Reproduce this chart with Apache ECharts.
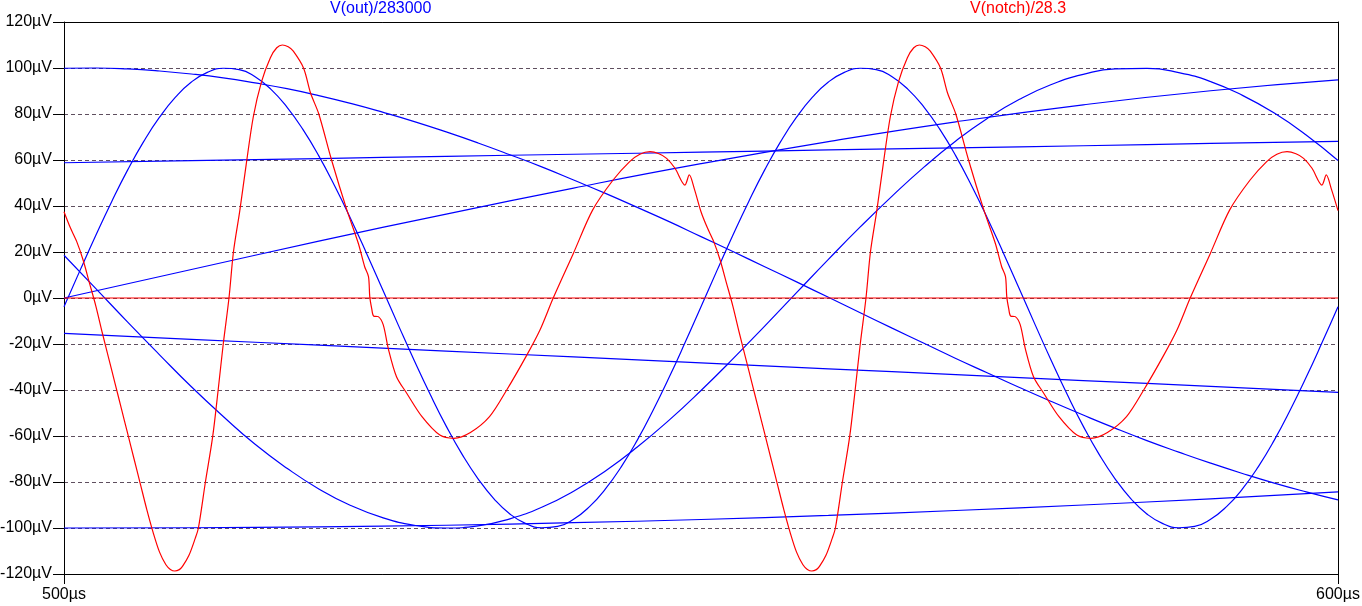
<!DOCTYPE html>
<html>
<head>
<meta charset="utf-8">
<script src="https://cdn.jsdelivr.net/npm/echarts@6/dist/echarts.min.js"></script>
<style>
  html, body { margin: 0; padding: 0; background: #fff; }
  #chart { width: 1362px; height: 606px; }
</style>
</head>
<body>
<div id="chart"></div>
<script>
// ---- data (time in µs, values in µV) ----
const time125 = [500,501.25,502.5,503.75,505,506.25,507.5,508.75,510,511.25,512.5,513.75,515,516.25,517.5,518.75,520,521.25,522.5,523.75,525,526.25,527.5,528.75,530,531.25,532.5,533.75,535,536.25,537.5,538.75,540,541.25,542.5,543.75,545,546.25,547.5,548.75,550,551.25,552.5,553.75,555,556.25,557.5,558.75,560,561.25,562.5,563.75,565,566.25,567.5,568.75,570,571.25,572.5,573.75,575,576.25,577.5,578.75,580,581.25,582.5,583.75,585,586.25,587.5,588.75,590,591.25,592.5,593.75,595,596.25,597.5,598.75,600];
const time25 = [500,502.5,505,507.5,510,512.5,515,517.5,520,522.5,525,527.5,530,532.5,535,537.5,540,542.5,545,547.5,550,552.5,555,557.5,560,562.5,565,567.5,570,572.5,575,577.5,580,582.5,585,587.5,590,592.5,595,597.5,600];
const time10 = [500,510,520,530,540,550,560,570,580,590,600];

const out20k = [-3.8,11.9,27.3,42.0,55.7,68.0,78.6,87.3,93.9,98.1,99.9,99.3,96.2,90.7,83.0,73.3,61.8,48.7,34.5,19.4,3.8,-11.9,-27.3,-42.0,-55.7,-68.0,-78.6,-87.3,-93.9,-98.1,-99.9,-99.3,-96.2,-90.7,-83.0,-73.3,-61.8,-48.7,-34.5,-19.4,
                -3.8,11.9,27.3,42.0,55.7,68.0,78.6,87.3,93.9,98.1,99.9,99.3,96.2,90.7,83.0,73.3,61.8,48.7,34.5,19.4,3.8,-11.9,-27.3,-42.0,-55.7,-68.0,-78.6,-87.3,-93.9,-98.1,-99.9,-99.3,-96.2,-90.7,-83.0,-73.3,-61.8,-48.7,-34.5,-19.4,-3.8];
const out9k = [18.6,4.1,-10.5,-24.7,-38.6,-51.5,-63.6,-74.0,-83.0,-90.2,-95.5,-98.8,-100,-99.1,-96.0,-91.0,-84.0,-75.2,-64.8,-53.1,-40.2,-26.5,-12.2,2.3,16.8,30.9,44.3,56.9,68.3,78.2,86.4,92.8,97.2,99.6,99.8,98.0,94.1,88.1,80.4,70.9,59.8];
const out4k = [99.9,100.0,99.6,98.7,97.4,95.7,93.5,91.0,88.0,84.6,80.8,76.7,72.2,67.4,62.3,57.0,51.3,45.5,39.4,33.2,26.7,20.2,13.6,7.0,0.3,-6.4,-13.1,-19.7,-26.3,-32.6,-38.9,-45.0,-50.9,-56.6,-62.0,-67.0,-71.8,-76.3,-80.5,-84.3,-87.8];
const out2k = [0,12.4,24.7,36.5,47.8,58.4,68.0,76.6,84.0,90.1,94.8];
const outSlowA = [58.8,59.7,60.6,61.6,62.5,63.4,64.4,65.3,66.2,67.2,68.1];
const outSlowB = [-15.4,-18.0,-20.5,-23.1,-25.6,-28.2,-30.8,-33.3,-35.9,-38.4,-41.0];
const outSlowC = [-100.0,-99.9,-99.5,-98.8,-97.7,-96.3,-94.5,-92.4,-90.0,-87.3,-84.3];

const notchTimeA = [500,500.5,501,501.5,502,502.5,503,503.5,504,504.5,505,505.5,506,506.5,507,507.5,508,508.35,508.7,509.05,509.3,509.8,510.3,510.55,511.1,511.67,512.1,512.5,512.95,513.3,513.8,514.3,514.86,515.5,516.2,516.7,517.14,517.6,518,518.8,519.36,520,521,522.2,523.1,523.6,523.9,524,524.15,524.3,524.67,525.06,525.45,526.1,526.9,528.1,529.5,530.6,531.9,533.4,534.75,536.26,537.36,538.4,539.98,541.5,543.1,544.4,545.2,546,546.7,547.3,547.96,548.74,549.08,549.5];
const notchValA = [37.5,30.5,24.5,16.5,6.5,-3.5,-15,-26,-37,-48,-59,-70,-81,-92,-102,-110.5,-116,-118,-118.7,-118.1,-116.7,-112,-104.5,-100,-80,-60.3,-40,-20,0,20,38,58,78.8,94,104.5,108.8,110,109.2,107.3,100,89,80,60,38.3,23.8,13.6,9.3,0.6,-4.5,-7.8,-8.1,-11.7,-21.9,-34.2,-41.4,-51.6,-59.6,-61,-58.5,-51.6,-40,-25.5,-13.9,0,19.4,38.3,51.3,59.3,62.5,63.6,62.7,60.7,56.4,49.1,53.5,47];
const notchTimeB = [550,550.5,551,551.5,552,552.5,553,553.5,554,554.5,555,555.5,556,556.5,557,557.5,558,558.35,558.7,559.05,559.3,559.8,560.3,560.55,561.1,561.67,562.1,562.5,562.95,563.3,563.8,564.3,564.86,565.5,566.2,566.7,567.14,567.6,568,568.8,569.36,570,571,572.2,573.1,573.6,573.9,574,574.15,574.3,574.67,575.06,575.45,576.1,576.9,578.1,579.5,580.6,581.9,583.4,584.75,586.26,587.36,588.4,589.98,591.5,593.1,594.4,595.2,596,596.7,597.3,597.96,598.74,599.08,599.5,600];
const notchValB = [37.5,30.5,24.5,16.5,6.5,-3.5,-15,-26,-37,-48,-59,-70,-81,-92,-102,-110.5,-116,-118,-118.7,-118.1,-116.7,-112,-104.5,-100,-80,-60.3,-40,-20,0,20,38,58,78.8,94,104.5,108.8,110,109.2,107.3,100,89,80,60,38.3,23.8,13.6,9.3,0.6,-4.5,-7.8,-8.1,-11.7,-21.9,-34.2,-41.4,-51.6,-59.6,-61,-58.5,-51.6,-40,-25.5,-13.9,0,19.4,38.3,51.3,59.3,62.5,63.6,62.7,60.7,56.4,49.1,53.5,47,38];
const notchZeroTime = [500,600];
const notchZeroVal = [0,0];

const titleOut = 'V(out)/283000';
const titleNotch = 'V(notch)/28.3';

// ---- chart ----
const FONT = '"Liberation Sans", Arial, sans-serif';
const BLUE = '#0000ff', RED = '#ff0000';
const pairs = (t, v) => t.map((x, i) => [x, v[i]]);

function blue(data, smooth) {
  return { type: 'line', data: data, smooth: smooth,
    showSymbol: false, symbol: 'none', lineStyle: { color: BLUE, width: 1.2 }, silent: true, z: 3 };
}
function red(data, smooth) {
  return { type: 'line', data: data, smooth: smooth,
    showSymbol: false, symbol: 'none', lineStyle: { color: RED, width: 1.2 }, silent: true, z: 4 };
}

const chart = echarts.init(document.getElementById('chart'), null, { renderer: 'canvas' });
chart.setOption({
  animation: false,
  backgroundColor: '#ffffff',
  grid: { left: 64, top: 22, width: 1274, height: 552, containLabel: false, outerBoundsMode: 'none' },
  xAxis: [
    { type: 'value', min: 500, max: 600, interval: 100,
      axisLine: { show: true, onZero: false, lineStyle: { color: '#000', width: 1 } },
      axisTick: { show: true, length: 10, lineStyle: { color: '#000', width: 1 } },
      axisLabel: { margin: 13, color: '#000', fontSize: 16, fontFamily: FONT, formatter: v => v + 'µs' },
      splitLine: { show: false } },
    { type: 'value', position: 'top', min: 500, max: 600, interval: 100,
      axisLine: { show: true, onZero: false, lineStyle: { color: '#000', width: 1 } },
      axisTick: { show: false }, axisLabel: { show: false }, splitLine: { show: false } }
  ],
  yAxis: [
    { type: 'value', min: -120, max: 120, interval: 20,
      axisLine: { show: true, onZero: false, lineStyle: { color: '#000', width: 1 } },
      axisTick: { show: true, length: 11, lineStyle: { color: '#000', width: 1 } },
      axisLabel: { margin: 12, color: '#000', fontSize: 16, fontFamily: FONT, formatter: v => v + 'µV' },
      splitLine: { show: true, lineStyle: { color: '#5f4f5f', width: 1, type: [4, 3] } } },
    { type: 'value', position: 'right', min: -120, max: 120, interval: 20,
      axisLine: { show: true, onZero: false, lineStyle: { color: '#000', width: 1 } },
      axisTick: { show: false }, axisLabel: { show: false }, splitLine: { show: false } }
  ],
  graphic: [
    { type: 'text', left: 330, top: 1, style: { text: titleOut, fill: BLUE, font: '16px ' + FONT } },
    { type: 'text', left: 970, top: 1, style: { text: titleNotch, fill: RED, font: '16px ' + FONT } }
  ],
  series: [
    blue(pairs(time10, outSlowC), true),
    blue(pairs(time10, outSlowB), true),
    blue(pairs(time10, outSlowA), true),
    blue(pairs(time10, out2k), true),
    blue(pairs(time25, out4k), true),
    blue(pairs(time25, out9k), true),
    blue(pairs(time125, out20k), true),
    red(pairs(notchZeroTime, notchZeroVal), false),
    red(pairs(notchTimeA, notchValA).concat(pairs(notchTimeB, notchValB)), 0.3)
  ]
});
</script>
</body>
</html>
